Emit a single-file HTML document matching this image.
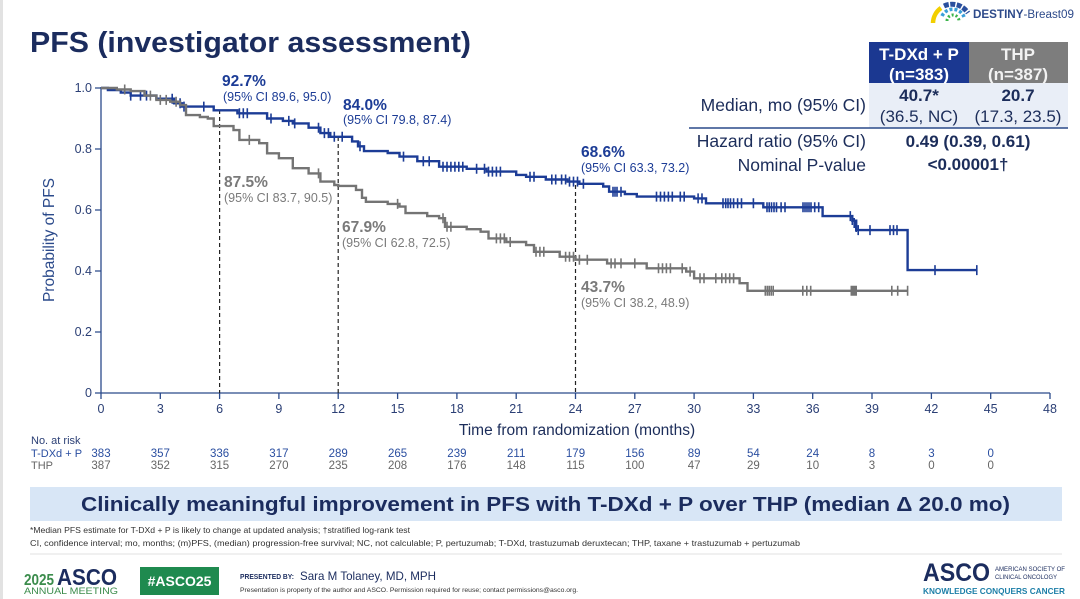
<!DOCTYPE html>
<html>
<head>
<meta charset="utf-8">
<style>
html,body{margin:0;padding:0;background:#fff;}
svg{display:block;}
</style>
</head>
<body>
<svg width="1080" height="599" viewBox="0 0 1080 599" xmlns="http://www.w3.org/2000/svg" font-family="'Liberation Sans', Arial, sans-serif">
<rect x="0" y="0" width="1080" height="599" fill="#ffffff"/>
<rect x="0" y="0" width="3" height="599" fill="#e2e2e2"/>

<!-- Title -->
<text x="30" y="52" font-size="29" font-weight="bold" fill="#1b2c5e" textLength="441" lengthAdjust="spacingAndGlyphs">PFS (investigator assessment)</text>

<!-- DESTINY logo -->
<path d="M933,23 A19,19 0 0 1 941,8" fill="none" stroke="#f2cf00" stroke-width="4.5"/>
<path d="M944,6 A19,19 0 0 1 968,13" fill="none" stroke="#2a4f9e" stroke-width="5" stroke-dasharray="5,1.5"/>
<path d="M942,16 A12,12 0 0 1 964,17" fill="none" stroke="#3a9fd8" stroke-width="3.5" stroke-dasharray="3,2"/>
<path d="M947,21 A6,6 0 0 1 959,21" fill="none" stroke="#3cb44b" stroke-width="3" stroke-dasharray="2,2"/>
<text x="973" y="18" font-size="11.5" fill="#2d4a8a" textLength="101" lengthAdjust="spacingAndGlyphs"><tspan font-weight="bold">DESTINY</tspan>-Breast09</text>

<!-- Table -->
<rect x="869" y="42" width="100" height="41" fill="#1b3891"/>
<rect x="969" y="42" width="99" height="41" fill="#7d7d7d"/>
<rect x="869" y="83" width="199" height="45" fill="#e9eef7"/>
<line x1="689" y1="128" x2="1068" y2="128" stroke="#2a4a8a" stroke-width="1.5"/>
<g font-size="17" font-weight="bold" text-anchor="middle" fill="#ffffff">
<text x="919" y="60">T-DXd + P</text>
<text x="919" y="80">(n=383)</text>
<text x="1018" y="60" fill="#f2f2f2">THP</text>
<text x="1018" y="80" fill="#f2f2f2">(n=387)</text>
</g>
<g font-size="17" text-anchor="middle" fill="#1c2d5a">
<text x="919" y="101" font-weight="bold">40.7*</text>
<text x="919" y="122">(36.5, NC)</text>
<text x="1018" y="101" font-weight="bold">20.7</text>
<text x="1018" y="122">(17.3, 23.5)</text>
<text x="968" y="147" font-weight="bold">0.49 (0.39, 0.61)</text>
<text x="968" y="170" font-weight="bold">&lt;0.00001†</text>
</g>
<g font-size="17.5" text-anchor="end" fill="#1c2d5a">
<text x="866" y="111">Median, mo (95% CI)</text>
<text x="866" y="147">Hazard ratio (95% CI)</text>
<text x="866" y="171">Nominal P-value</text>
</g>

<!-- Axes -->
<g stroke="#2b4a8b" stroke-width="1.3" fill="none">
<line x1="101" y1="87" x2="101" y2="393"/>
<line x1="101" y1="393" x2="1050" y2="393"/>
<path d="M95,88H101 M95,149H101 M95,210H101 M95,271H101 M95,332H101 M95,393H101"/>
<path d="M101,393V399 M160.3,393V399 M219.6,393V399 M278.9,393V399 M338.2,393V399 M397.6,393V399 M456.9,393V399 M516.2,393V399 M575.5,393V399 M634.8,393V399 M694.1,393V399 M753.4,393V399 M812.7,393V399 M872,393V399 M931.4,393V399 M990.7,393V399 M1050,393V399"/>
</g>
<g font-size="12.5" fill="#2b3f75" text-anchor="end">
<text x="92" y="92">1.0</text>
<text x="92" y="153">0.8</text>
<text x="92" y="214">0.6</text>
<text x="92" y="275">0.4</text>
<text x="92" y="336">0.2</text>
<text x="92" y="397">0</text>
</g>
<g font-size="12.5" fill="#2b3f75" text-anchor="middle">
<text x="101" y="413">0</text><text x="160.3" y="413">3</text><text x="219.6" y="413">6</text><text x="278.9" y="413">9</text>
<text x="338.2" y="413">12</text><text x="397.6" y="413">15</text><text x="456.9" y="413">18</text><text x="516.2" y="413">21</text>
<text x="575.5" y="413">24</text><text x="634.8" y="413">27</text><text x="694.1" y="413">30</text><text x="753.4" y="413">33</text>
<text x="812.7" y="413">36</text><text x="872" y="413">39</text><text x="931.4" y="413">42</text><text x="990.7" y="413">45</text>
<text x="1050" y="413">48</text>
</g>
<text x="577" y="435" font-size="15.5" fill="#1c2d5a" text-anchor="middle">Time from randomization (months)</text>
<text transform="translate(54,240) rotate(-90)" font-size="15.5" fill="#2b4a8b" text-anchor="middle">Probability of PFS</text>

<!-- Dashed reference lines -->
<g stroke="#222" stroke-width="1.2" stroke-dasharray="4,3">
<line x1="219.6" y1="110" x2="219.6" y2="393"/>
<line x1="338.2" y1="137" x2="338.2" y2="393"/>
<line x1="575.5" y1="185" x2="575.5" y2="393"/>
</g>

<!-- Blue curve -->
<path fill="none" stroke="#1c3c96" stroke-width="2.4" d="M101,88 H107.9 V90.1 H120.8 V92.6 H130.7 V95.6 H156.4 V98.7 H174.1 V103.3 H182.1 V106.6 H213.7 V110.3 H237.4 V113.3 H267.1 V118.5 H282.9 V120.9 H292.8 V123.4 H308.6 V127.7 H320.4 V133.1 H330.3 V136.8 H352.1 V141.4 H358.0 V146.3 H364.0 V151.1 H387.7 V153.0 H399.5 V156.6 H417.3 V161.2 H439.1 V166.7 H466.7 V168.8 H486.5 V171.6 H516.2 V174.9 H526.1 V176.8 H545.8 V179.5 H567.6 V181.6 H579.4 V183.8 H603.2 V186.5 H609.1 V191.7 H624.9 V194.1 H636.8 V196.6 H694.1 V198.4 H706.0 V203.3 H763.3 V207.3 H822.6 V216.1 H852.3 V220.7 H856.2 V230.1 H907.6 V270.1 H976.8"/>
<path fill="none" stroke="#1c3c96" stroke-width="1.6" d="M130.7,90.6v10 M140.5,90.6v10 M146.5,90.6v10 M172.2,93.7v10 M180.1,98.3v10 M184,101.6v10 M203.8,101.6v10 M239.4,108.3v10 M243.3,108.3v10 M247.3,108.3v10 M271,113.5v10 M288.8,115.9v10 M294.7,118.4v10 M318.5,122.7v10 M324.4,128.1v10 M328.4,128.1v10 M334.3,131.8v10 M342.2,131.8v10 M360,141.3v10 M403.5,151.6v10 M423.3,156.2v10 M429.2,156.2v10 M443,161.7v10 M447,161.7v10 M450.9,161.7v10 M454.9,161.7v10 M458.8,161.7v10 M462.8,161.7v10 M476.6,163.8v10 M484.5,163.8v10 M488.5,166.6v10 M492.4,166.6v10 M496.4,166.6v10 M500.4,166.6v10 M530,171.8v10 M534,171.8v10 M551.8,174.5v10 M555.7,174.5v10 M561.6,174.5v10 M565.6,174.5v10 M569.5,176.6v10 M573.5,176.6v10 M577.5,176.6v10 M583.4,178.8v10 M613,186.7v10 M615,186.7v10 M617,186.7v10 M621,186.7v10 M656.5,191.6v10 M660.5,191.6v10 M664.4,191.6v10 M668.4,191.6v10 M672.3,191.6v10 M680.3,191.6v10 M684.2,191.6v10 M698.1,193.4v10 M702,193.4v10 M723,198.3v10 M725.7,198.3v10 M728,198.3v10 M730.5,198.3v10 M733.6,198.3v10 M737.6,198.3v10 M741.5,198.3v10 M753.4,198.3v10 M767,202.3v10 M769.2,202.3v10 M771.5,202.3v10 M774,202.3v10 M776.5,202.3v10 M781.1,202.3v10 M785,202.3v10 M803,202.3v10 M805,202.3v10 M807,202.3v10 M809,202.3v10 M811,202.3v10 M814.7,202.3v10 M818.7,202.3v10 M850.3,211.1v10 M852.3,215v10 M854.2,218v10 M856.2,222v10 M858.2,225.1v10 M870,225.1v10 M890,225.1v10 M893.5,225.1v10 M897,225.1v10 M935,265.1v10 M976.8,265.1v10"/>

<!-- Gray curve -->
<path fill="none" stroke="#747474" stroke-width="2.4" d="M101,88 H116.8 V89.5 H130.7 V91.1 H144.5 V95.6 H156.4 V99.9 H170.2 V101.7 H180.1 V105.1 H186.0 V115.1 H199.9 V117.0 H207.8 V118.5 H213.7 V126.1 H233.5 V130.1 H239.4 V139.9 H259.2 V143.2 H267.1 V153.3 H278.9 V158.2 H292.8 V168.2 H308.6 V173.4 H320.4 V181.6 H334.3 V185.0 H338.2 V185.9 H356.0 V189.9 H362.0 V197.8 H365.9 V201.8 H387.7 V203.9 H399.5 V206.6 H405.5 V213.1 H427.2 V216.1 H439.1 V218.2 H445.0 V226.8 H466.7 V229.2 H480.6 V231.7 H488.5 V238.4 H506.3 V242.0 H526.1 V245.1 H534.0 V251.8 H559.7 V256.7 H575.5 V259.7 H607.1 V263.4 H646.7 V268.3 H686.2 V271.6 H694.1 V278.3 H739.6 V283.2 H747.5 V290.8 H907.6"/>
<path fill="none" stroke="#747474" stroke-width="1.6" d="M124.7,84.5v10 M150.4,90.6v10 M160.3,94.9v10 M166.2,94.9v10 M176.1,96.7v10 M249.3,134.9v10 M318.5,168.4v10 M397.6,198.9v10 M443,213.2v10 M447,221.8v10 M450.9,221.8v10 M496.4,233.4v10 M500.4,233.4v10 M504.3,233.4v10 M510.2,237v10 M536,246.8v10 M539.9,246.8v10 M543.8,246.8v10 M565.6,251.7v10 M569.5,251.7v10 M573.5,251.7v10 M579.4,254.7v10 M587.3,254.7v10 M611.1,258.4v10 M615,258.4v10 M621,258.4v10 M634.8,258.4v10 M658.5,263.3v10 M662.5,263.3v10 M666.4,263.3v10 M670.4,263.3v10 M682.2,263.3v10 M690.1,266.6v10 M700,273.3v10 M704,273.3v10 M715.8,273.3v10 M721.8,273.3v10 M725.7,273.3v10 M729.7,273.3v10 M733.6,273.3v10 M765.3,285.8v10 M767.3,285.8v10 M769.2,285.8v10 M771.2,285.8v10 M773.2,285.8v10 M802.8,285.8v10 M806.8,285.8v10 M810.7,285.8v10 M851.3,285.8v10 M852.3,285.8v10 M853.3,285.8v10 M854.2,285.8v10 M855.2,285.8v10 M856.2,285.8v10 M891.8,285.8v10 M897.7,285.8v10 M907.6,285.8v10"/>

<!-- Annotations -->
<g fill="#1c3c96">
<text x="222" y="86" font-size="15.5" font-weight="bold">92.7%</text>
<text x="223" y="101" font-size="12.5">(95% CI 89.6, 95.0)</text>
<text x="343" y="110" font-size="15.5" font-weight="bold">84.0%</text>
<text x="343" y="124" font-size="12.5">(95% CI 79.8, 87.4)</text>
<text x="581" y="157" font-size="15.5" font-weight="bold">68.6%</text>
<text x="581" y="172" font-size="12.5">(95% CI 63.3, 73.2)</text>
</g>
<g fill="#7a7a7a">
<text x="224" y="187" font-size="15.5" font-weight="bold">87.5%</text>
<text x="224" y="202" font-size="12.5">(95% CI 83.7, 90.5)</text>
<text x="342" y="232" font-size="15.5" font-weight="bold">67.9%</text>
<text x="342" y="247" font-size="12.5">(95% CI 62.8, 72.5)</text>
<text x="581" y="292" font-size="15.5" font-weight="bold">43.7%</text>
<text x="581" y="307" font-size="12.5">(95% CI 38.2, 48.9)</text>
</g>

<!-- Number at risk -->
<text x="31" y="444" font-size="11" fill="#2b3f75">No. at risk</text>
<text x="31" y="457" font-size="11" fill="#2a4ea0">T-DXd + P</text>
<text x="31" y="469" font-size="11" fill="#666">THP</text>
<g font-size="11.5" fill="#2a4ea0" text-anchor="middle">
<text x="101" y="457">383</text><text x="160.3" y="457">357</text><text x="219.6" y="457">336</text><text x="278.9" y="457">317</text>
<text x="338.2" y="457">289</text><text x="397.6" y="457">265</text><text x="456.9" y="457">239</text><text x="516.2" y="457">211</text>
<text x="575.5" y="457">179</text><text x="634.8" y="457">156</text><text x="694.1" y="457">89</text><text x="753.4" y="457">54</text>
<text x="812.7" y="457">24</text><text x="872" y="457">8</text><text x="931.4" y="457">3</text><text x="990.7" y="457">0</text>
</g>
<g font-size="11.5" fill="#666" text-anchor="middle">
<text x="101" y="469">387</text><text x="160.3" y="469">352</text><text x="219.6" y="469">315</text><text x="278.9" y="469">270</text>
<text x="338.2" y="469">235</text><text x="397.6" y="469">208</text><text x="456.9" y="469">176</text><text x="516.2" y="469">148</text>
<text x="575.5" y="469">115</text><text x="634.8" y="469">100</text><text x="694.1" y="469">47</text><text x="753.4" y="469">29</text>
<text x="812.7" y="469">10</text><text x="872" y="469">3</text><text x="931.4" y="469">0</text><text x="990.7" y="469">0</text>
</g>

<!-- Banner -->
<rect x="30" y="487" width="1032" height="34" fill="#d8e6f6"/>
<text x="81" y="511" font-size="20" font-weight="bold" fill="#1b2c5e" textLength="929" lengthAdjust="spacingAndGlyphs">Clinically meaningful improvement in PFS with T-DXd + P over THP (median Δ 20.0 mo)</text>

<!-- Footnotes -->
<text x="30" y="533" font-size="8.5" fill="#333" textLength="380" lengthAdjust="spacingAndGlyphs">*Median PFS estimate for T-DXd + P is likely to change at updated analysis; †stratified log-rank test</text>
<text x="30" y="546" font-size="8.5" fill="#333" textLength="770" lengthAdjust="spacingAndGlyphs">CI, confidence interval; mo, months; (m)PFS, (median) progression-free survival; NC, not calculable; P, pertuzumab; T-DXd, trastuzumab deruxtecan; THP, taxane + trastuzumab + pertuzumab</text>
<line x1="30" y1="554" x2="1062" y2="554" stroke="#e0e0e0" stroke-width="1"/>

<!-- Footer left -->
<text x="24" y="585" font-size="16" font-weight="bold" fill="#3b8c4c" textLength="30" lengthAdjust="spacingAndGlyphs">2025</text>
<text x="57" y="585" font-size="23" font-weight="bold" fill="#1b2c5e" textLength="60" lengthAdjust="spacingAndGlyphs">ASCO</text>
<text x="24" y="594" font-size="9.5" fill="#3b8c4c" textLength="94" lengthAdjust="spacingAndGlyphs">ANNUAL MEETING</text>
<rect x="140" y="567" width="79" height="28" fill="#1f8a4f"/>
<text x="179.5" y="586" font-size="14" font-weight="bold" fill="#ffffff" text-anchor="middle">#ASCO25</text>
<text x="240" y="579" font-size="7" font-weight="bold" fill="#1b2c5e" textLength="54" lengthAdjust="spacingAndGlyphs">PRESENTED BY:</text>
<text x="300" y="580" font-size="12" fill="#1b2c5e" textLength="136" lengthAdjust="spacingAndGlyphs">Sara M Tolaney, MD, MPH</text>
<text x="240" y="592" font-size="6" fill="#333" textLength="338" lengthAdjust="spacingAndGlyphs">Presentation is property of the author and ASCO. Permission required for reuse; contact permissions@asco.org.</text>

<!-- Footer right -->
<text x="923" y="581" font-size="25" font-weight="bold" fill="#1b2c5e" textLength="67" lengthAdjust="spacingAndGlyphs">ASCO</text>
<text x="995" y="571" font-size="6.5" fill="#1b2c5e" textLength="70" lengthAdjust="spacingAndGlyphs">AMERICAN SOCIETY OF</text>
<text x="995" y="579" font-size="6.5" fill="#1b2c5e" textLength="62" lengthAdjust="spacingAndGlyphs">CLINICAL ONCOLOGY</text>
<text x="923" y="594" font-size="8.5" font-weight="bold" fill="#1d7fa8" textLength="142" lengthAdjust="spacingAndGlyphs">KNOWLEDGE CONQUERS CANCER</text>
</svg>
</body>
</html>
